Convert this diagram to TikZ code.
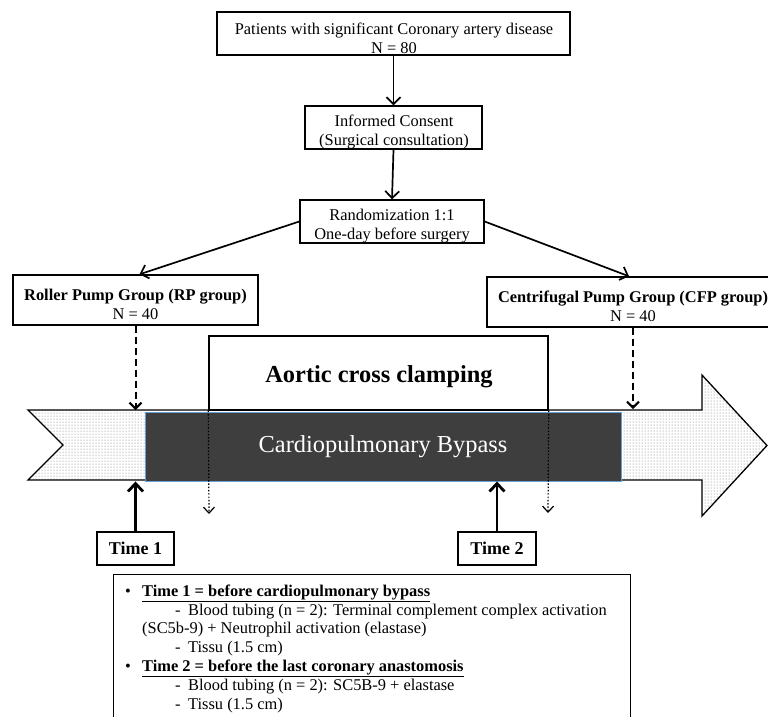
\documentclass[tikz,border=0pt]{standalone}
\usepackage{fontspec}
\setmainfont{Liberation Serif}
\usetikzlibrary{arrows.meta,patterns,calc}
\definecolor{cpbfill}{HTML}{3E3E3E}
\definecolor{cpbedge}{HTML}{6A9FD4}
\definecolor{dotcol}{HTML}{6E6E6E}
\newcommand{\fsn}{\fontsize{16.4}{19}\selectfont}
\newcommand{\fsb}{\fontsize{24.4}{28}\selectfont}
\begin{document}
\begin{tikzpicture}[x=1pt,y=-1pt,
  box/.style={draw, line width=1.4pt, inner sep=0pt},
  txt/.style={inner sep=0pt, font=\fsn, align=center},
  ltxt/.style={inner sep=0pt, font=\fsn, anchor=base west},
  arr/.style={line width=1.7pt, -{Straight Barb[length=7pt,width=14pt]}},
  dasharr/.style={line width=2pt, dash pattern=on 7pt off 4pt, -{Straight Barb[length=6pt,width=12pt]}},
  dotarr/.style={line width=1.2pt, dash pattern=on 1.5pt off 1.8pt, -{Straight Barb[length=6pt,width=11pt]}},
  timearr/.style={line width=2.8pt, -{Straight Barb[length=8pt,width=15pt]}}
]
\useasboundingbox (0,0) rectangle (768,716);
\clip (0,0) rectangle (768,716);

% big timeline arrow
\coordinate (atop) at (28,410);
\draw[line width=1.3pt, pattern=dots, pattern color=dotcol]
  (28,410) -- (702,410) -- (702,375) -- (767,445.5) -- (702,516) -- (702,480)
  -- (28,480) -- (63,445) -- cycle;

% flow boxes
\node[box, minimum width=353, minimum height=43] (top) at (393.5,33.5) {};
\node[txt] (toptxt) at (394,38) {Patients with significant Coronary artery disease\\N = 80};

\node[box, minimum width=177, minimum height=43] (cons) at (393.5,127.5) {};
\node[txt] (constxt) at (394,132) {Informed Consent\\(Surgical consultation)};

\node[box, minimum width=184, minimum height=43] (rand) at (392,221.5) {};
\node[txt] (randtxt) at (392,226.5) {Randomization 1:1\\One-day before surgery};

\node[box, minimum width=245, minimum height=50] (roll) at (135.5,300) {};
\node[txt] (rolltxt) at (135.5,304) {\textbf{Roller Pump Group (RP group)}\\N = 40};

\node[box, minimum width=290, minimum height=50] (cfp) at (632,302) {};
\node[txt] (cfptxt) at (633,306) {\textbf{Centrifugal Pump Group (CFP group)}\\N = 40};

\draw[arr] (top.south) -- (cons.north);
\draw[arr] (cons.south) -- (rand.north);
\draw[arr] (rand.west) -- ($(roll.north)+(4,0)$);
\draw[arr] (rand.east) -- ($(cfp.north)+(-3,0)$);

% aortic cross clamping box
\node[box, minimum width=339, minimum height=74] (aort) at (378.5,373) {};
\node[inner sep=0pt, font=\fsb\bfseries] (aorttxt) at (379,377) {Aortic cross clamping};

% CPB box
\node[fill=cpbfill, draw=cpbedge, line width=0.9pt, minimum width=476, minimum height=69,
      inner sep=0pt, text=white, font=\fsb] (cpb) at (383,446.5) {Cardiopulmonary Bypass};

% dotted clamp lines
\coordinate (d1) at (209,514);
\coordinate (d2) at (548,513);
\draw[dotarr] (aort.south west) -- (d1);
\draw[dotarr] (aort.south east) -- (d2);

% dashed group arrows
\draw[dasharr] (roll.south) -- (roll.south |- atop);
\draw[dasharr] (cfp.south -| 633,0) -- (633,409);

% time boxes
\node[box, minimum width=77, minimum height=33, font=\fontsize{18}{20}\selectfont\bfseries] (t1) at (135.5,548.5) {\raisebox{-2pt}{Time 1}};
\node[box, minimum width=78, minimum height=33, font=\fontsize{18}{20}\selectfont\bfseries] (t2) at (497,548.5) {\raisebox{-2pt}{Time 2}};
\draw[timearr] (t1.north) -- (t1.north |- cpb.south);
\draw[timearr] (t2.north) -- (t2.north |- cpb.south);

% notes box
\node[box, anchor=north west, minimum width=517, minimum height=170] (notes) at (113,574) {};
\node[ltxt] (b1) at (125,596) {•};
\node[ltxt] (l1) at (142,596) {\textbf{\underline{Time 1 = before cardiopulmonary bypass}}};
\node[ltxt] (h2) at (175,615) {-};
\node[ltxt] (l2) at (188,615) {Blood tubing (n = 2): Terminal complement complex activation};
\node[ltxt] (l3) at (142,633.5) {(SC5b-9) + Neutrophil activation (elastase)};
\node[ltxt] (h4) at (175,652) {-};
\node[ltxt] (l4) at (188,652) {Tissu (1.5 cm)};
\node[ltxt] (b5) at (125,671) {•};
\node[ltxt] (l5) at (142,671) {\textbf{\underline{Time 2 = before the last coronary anastomosis}}};
\node[ltxt] (h6) at (175,690) {-};
\node[ltxt] (l6) at (188,690) {Blood tubing (n = 2): SC5B-9 + elastase};
\node[ltxt] (h7) at (175,709) {-};
\node[ltxt] (l7) at (188,709) {Tissu (1.5 cm)};
\end{tikzpicture}
\end{document}
